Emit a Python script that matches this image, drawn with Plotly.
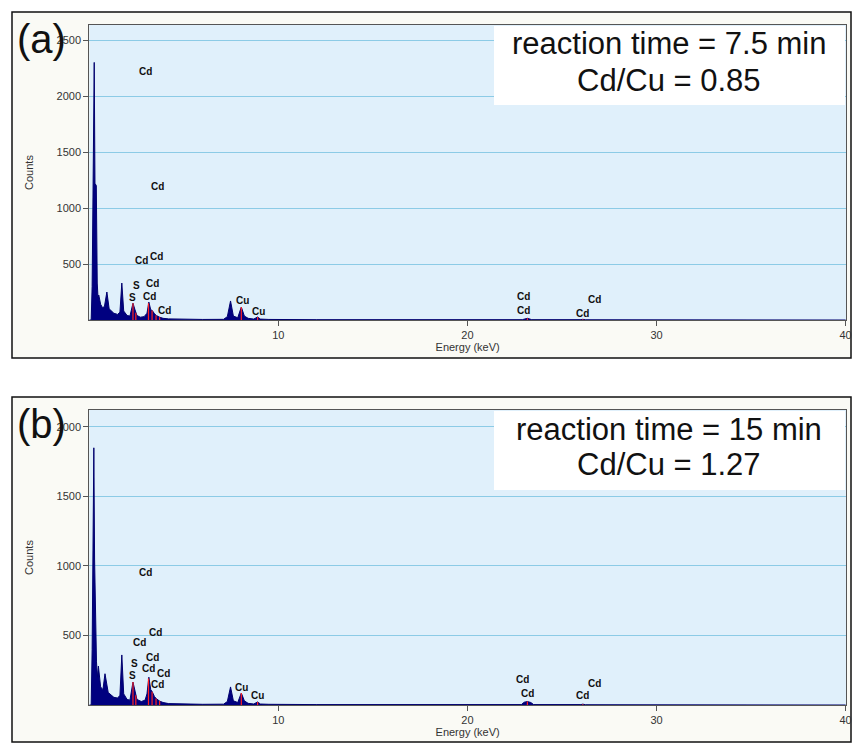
import plotly.graph_objects as go

# ---------------- data ----------------
energy_a = [0.0, 0.1, 0.15, 0.2, 0.26, 0.3, 0.37, 0.42, 0.46, 0.5, 0.6, 0.7, 0.8, 0.93, 1.05,
            1.3, 1.5, 1.62, 1.72, 1.82, 2.0, 2.15, 2.31, 2.42, 2.52, 2.7, 2.9, 3.05, 3.15,
            3.25, 3.33, 3.45, 3.55, 3.72, 3.9, 4.2, 5.0, 6.0, 7.1, 7.3, 7.47, 7.62, 7.85,
            8.04, 8.2, 8.4, 8.7, 8.9, 9.05, 9.5, 12.0, 20.0, 22.9, 23.17, 23.4, 26.0, 26.1,
            26.25, 40.0]
counts_a = [0, 0, 300, 1450, 2300, 1220, 1200, 330, 200, 223, 140, 110, 120, 250, 100,
            60, 50, 70, 330, 80, 40, 35, 150, 90, 40, 25, 30, 60, 160,
            90, 85, 55, 40, 25, 15, 10, 6, 5, 6, 30, 170, 35, 20,
            116, 35, 15, 8, 27, 8, 5, 3, 2, 3, 15, 3, 3, 6,
            2, 0]

energy_b = [0.0, 0.1, 0.15, 0.2, 0.24, 0.28, 0.33, 0.38, 0.43, 0.48, 0.6, 0.72, 0.83, 1.0,
            1.3, 1.5, 1.62, 1.72, 1.82, 2.0, 2.15, 2.31, 2.42, 2.52, 2.75, 2.95, 3.05, 3.15,
            3.25, 3.33, 3.45, 3.55, 3.72, 3.9, 4.2, 5.0, 6.0, 7.1, 7.3, 7.47, 7.62, 7.85,
            8.04, 8.2, 8.4, 8.7, 8.9, 9.05, 9.5, 12.0, 20.0, 22.85, 23.0, 23.17, 23.35, 23.5,
            26.0, 26.1, 26.25, 40.0]
counts_b = [0, 0, 400, 1190, 1850, 1050, 600, 310, 200, 280, 130, 110, 225, 90,
            55, 50, 70, 360, 80, 40, 35, 165, 100, 40, 25, 35, 80, 200,
            110, 95, 60, 45, 28, 18, 10, 6, 5, 6, 25, 130, 30, 18,
            86, 30, 12, 7, 22, 7, 5, 3, 2, 3, 20, 25, 18, 3,
            3, 6, 2, 0]

# identified element lines (red markers)
line_E = [2.31, 2.46, 3.13, 3.32, 3.53, 3.72, 8.04, 8.9, 23.17, 26.1]
line_C_a = [150, 65, 150, 85, 42, 25, 116, 27, 15, 6]
line_C_b = [165, 70, 190, 95, 47, 28, 86, 22, 25, 6]

# peak labels: (text, energy, counts)
lab_text_a = ["Cd", "Cd", "Cd", "Cd", "S", "Cd", "S", "Cd", "Cd", "Cu", "Cu", "Cd", "Cd", "Cd", "Cd"]
lab_E_a = [2.95, 3.63, 2.74, 3.53, 2.47, 3.32, 2.31, 3.16, 4.0, 8.08, 8.93, 22.95, 22.95, 26.7, 26.1]
lab_C_a = [2223, 1196, 527, 571, 312, 330, 205, 214, 89, 170, 80, 214, 89, 187, 62]

lab_text_b = ["Cd", "Cd", "Cd", "S", "Cd", "S", "Cd", "Cd", "Cd", "Cu", "Cu", "Cd", "Cd", "Cd", "Cd"]
lab_E_b = [2.95, 3.48, 2.68, 2.37, 3.32, 2.26, 3.11, 3.95, 3.63, 8.03, 8.87, 22.9, 23.15, 26.7, 26.1]
lab_C_b = [950, 525, 453, 302, 345, 209, 259, 230, 144, 129, 65, 180, 86, 158, 65]

x_ticks = [10, 20, 30, 40]
y_ticks_a = [500, 1000, 1500, 2000, 2500]
y_ticks_b = [500, 1000, 1500, 2000]

panel_tags = ["(a)", "(b)"]
box_line1 = ["reaction time = 7.5 min", "reaction time = 15 min"]
box_line2 = ["Cd/Cu = 0.85", "Cd/Cu = 1.27"]

# ---------------- layout geometry ----------------
W, H = 852, 743
FONT = "Liberation Sans, Arial, sans-serif"
PX0, PX1 = 89.3, 846.0
panels = [
    dict(frame=(12, 12, 851, 358), plot=(25, 320), yrange=2634),
    dict(frame=(12, 397, 851, 742), plot=(410, 705), yrange=2122),
]


def fx(px):
    return px / W


def fy(py):
    return 1 - py / H


fig = go.Figure()
shapes = []
annotations = []

datasets = [
    (energy_a, counts_a, line_C_a, lab_text_a, lab_E_a, lab_C_a, y_ticks_a),
    (energy_b, counts_b, line_C_b, lab_text_b, lab_E_b, lab_C_b, y_ticks_b),
]

for i, (E, C, LC, LT, LE, LCc, yt) in enumerate(datasets):
    p = panels[i]
    xs = "x" if i == 0 else "x2"
    ys = "y" if i == 0 else "y2"
    fx0, fy0, fx1, fy1 = p["frame"]
    top, bot = p["plot"]

    # outer frame
    shapes.append(dict(type="rect", xref="paper", yref="paper",
                       x0=fx(fx0), x1=fx(fx1), y0=fy(fy1), y1=fy(fy0),
                       line=dict(color="#111111", width=1.5), fillcolor="#fafaf5", layer="below"))
    # plot background
    shapes.append(dict(type="rect", xref="paper", yref="paper",
                       x0=fx(PX0), x1=fx(PX1), y0=fy(bot), y1=fy(top),
                       line=dict(width=0), fillcolor="#e0f0fb", layer="below"))
    # white info box
    shapes.append(dict(type="rect", xref="paper", yref="paper",
                       x0=fx(494), x1=fx(PX1 - 1), y0=fy(top + 80), y1=fy(top + 1),
                       line=dict(width=0), fillcolor="white", layer="above"))

    fig.add_trace(go.Scatter(x=E, y=C, mode="lines", fill="tozeroy",
                             line=dict(color="#00006e", width=1), fillcolor="#000080",
                             xaxis=xs, yaxis=ys, showlegend=False, hoverinfo="skip"))
    rx, ry = [], []
    for e, c in zip(line_E, LC):
        rx += [e, e, None]
        ry += [0, c, None]
    fig.add_trace(go.Scatter(x=rx, y=ry, mode="lines", line=dict(color="#ff2020", width=1.2),
                             xaxis=xs, yaxis=ys, showlegend=False, hoverinfo="skip"))

    for t, e, c in zip(LT, LE, LCc):
        annotations.append(dict(x=e, y=c, xref=xs, yref=ys, text="<b>" + t + "</b>",
                                showarrow=False, font=dict(family=FONT, size=10, color="#111111")))

    annotations.append(dict(x=fx(669), y=fy(top + 19), xref="paper", yref="paper",
                            xanchor="center", yanchor="middle",
                            text=box_line1[i], showarrow=False,
                            font=dict(family=FONT, size=31, color="#111111")))
    annotations.append(dict(x=fx(669), y=fy(top + 55), xref="paper", yref="paper",
                            xanchor="center", yanchor="middle",
                            text=box_line2[i], showarrow=False,
                            font=dict(family=FONT, size=31, color="#111111")))
    annotations.append(dict(x=fx(41), y=fy(top + 14), xref="paper", yref="paper",
                            xanchor="center", yanchor="middle",
                            text=panel_tags[i], showarrow=False,
                            font=dict(family=FONT, size=40, color="#111111")))

    axis_common = dict(showline=True, linecolor="#555555", linewidth=1, mirror=True,
                       ticks="outside", ticklen=5, tickcolor="#555555", automargin=False,
                       tickfont=dict(family=FONT, size=11, color="#333333"), zeroline=False)
    xkey = "xaxis" if i == 0 else "xaxis2"
    ykey = "yaxis" if i == 0 else "yaxis2"
    fig.update_layout(**{
        xkey: dict(domain=[fx(PX0), fx(PX1)], anchor=ys, range=[0, 40.02], tickvals=x_ticks,
                   showgrid=False,
                   title=dict(text="Energy (keV)", font=dict(family=FONT, size=11, color="#333333"),
                              standoff=2),
                   **axis_common),
        ykey: dict(domain=[fy(bot), fy(top)], anchor=xs, range=[0, p["yrange"]], tickvals=yt,
                   showgrid=True, gridcolor="#8ccbe6", gridwidth=1,
                   title=dict(text="Counts", font=dict(family=FONT, size=11, color="#333333"),
                              standoff=20),
                   **axis_common),
    })

fig.update_layout(width=W, height=H, margin=dict(l=0, r=0, t=0, b=0),
                  paper_bgcolor="white", plot_bgcolor="rgba(0,0,0,0)",
                  shapes=shapes, annotations=annotations, showlegend=False)

fig.write_html("out.html")
